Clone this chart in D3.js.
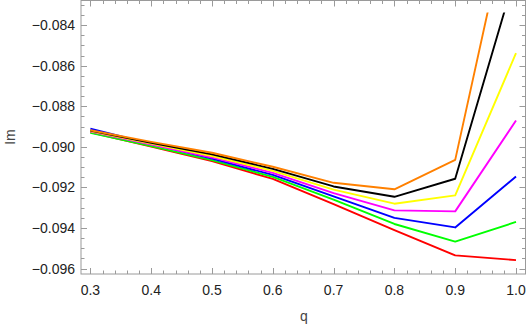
<!DOCTYPE html>
<html>
<head>
<meta charset="utf-8">
<script src="https://cdn.jsdelivr.net/npm/d3@7"></script>
<style>
  body { margin: 0; background: #fff; }
  text { font-family: "Liberation Sans", Arial, sans-serif; }
</style>
</head>
<body>
<svg id="chart" width="528" height="327"></svg>
<script>
// q values on the x axis
const qValues = [0.3, 0.4, 0.5, 0.6, 0.7, 0.8, 0.9, 1.0];

// Im values per curve
const redIm     = [-0.08928, -0.08998, -0.09070, -0.09158, -0.09282, -0.09410, -0.09535, -0.09558];
const greenIm   = [-0.08930, -0.08996, -0.09065, -0.09148, -0.09260, -0.09380, -0.09467, -0.09370];
const blueIm    = [-0.08910, -0.08985, -0.09058, -0.09138, -0.09244, -0.09350, -0.09397, -0.09146];
const magentaIm = [-0.08924, -0.08988, -0.09052, -0.09128, -0.09228, -0.09313, -0.09318, -0.08870];
const yellowIm  = [-0.08922, -0.08984, -0.09045, -0.09118, -0.09211, -0.09280, -0.09239, -0.08538];
const blackIm   = [-0.08920, -0.08980, -0.09037, -0.09108, -0.09195, -0.09246, -0.09157, -0.08139];
const orangeIm  = [-0.08918, -0.08975, -0.09029, -0.09098, -0.09177, -0.09209, -0.09064, -0.07700];

const xTicks = [0.3, 0.4, 0.5, 0.6, 0.7, 0.8, 0.9, 1.0];
const yTicks = [-0.096, -0.094, -0.092, -0.090, -0.088, -0.086, -0.084];

const series = [
  { values: redIm, color: "#ff0000" },
  { values: greenIm, color: "#00ff00" },
  { values: blueIm, color: "#0000ff" },
  { values: magentaIm, color: "#ff00ff" },
  { values: yellowIm, color: "#ffff00" },
  { values: blackIm, color: "#000000" },
  { values: orangeIm, color: "#ff8000" },
];

const svg = d3.select("#chart");

// frame edges (plot padding as in the picture)
const fLeft = 81, fRight = 525.5, fTop = 0.5, fBottom = 274;

const x = d3.scaleLinear().domain([0.3, 1.0]).range([90.4, 516]);
const y = d3.scaleLinear().domain([-0.096, -0.084]).range([268.6, 25.2]);

// lines are cut at the plot range top
const clipTop = y(-0.08338);
svg.append("clipPath").attr("id", "clip")
  .append("rect")
  .attr("x", fLeft).attr("y", clipTop)
  .attr("width", fRight - fLeft).attr("height", fBottom - clipTop);

const line = d3.line()
  .x((d, i) => x(qValues[i]))
  .y((d) => y(d));

svg.append("g")
  .attr("clip-path", "url(#clip)")
  .selectAll("path")
  .data(series)
  .join("path")
  .attr("fill", "none")
  .attr("stroke", (d) => d.color)
  .attr("stroke-width", 1.9)
  .attr("stroke-linejoin", "round")
  .attr("d", (d) => line(d.values));

// frame
svg.append("rect")
  .attr("x", fLeft).attr("y", fTop)
  .attr("width", fRight - fLeft).attr("height", fBottom - fTop)
  .attr("fill", "none").attr("stroke", "#9a9a9a").attr("stroke-width", 1);

const tickColor = "#9a9a9a";

// x ticks, major and minor, bottom and top, pointing inward
const xMinor = d3.range(30, 101, 2).map((v) => v / 100);
const xt = svg.append("g").attr("stroke", tickColor).attr("stroke-width", 1);
xMinor.forEach((v) => {
  const major = Math.abs(v * 10 - Math.round(v * 10)) < 1e-6;
  const len = major ? 6 : 3.5;
  const px = Math.round(x(v)) + 0.5;
  xt.append("line").attr("x1", px).attr("x2", px).attr("y1", fBottom).attr("y2", fBottom - len);
  xt.append("line").attr("x1", px).attr("x2", px).attr("y1", fTop).attr("y2", fTop + len);
});

// y ticks
const yMinor = d3.range(-0.0960, -0.08299, 0.0005);
const yt = svg.append("g").attr("stroke", tickColor).attr("stroke-width", 1);
yMinor.forEach((v) => {
  const major = yTicks.some((t) => Math.abs(t - v) < 1e-7);
  const len = major ? 6 : 3.5;
  const py = y(v);
  if (py < fTop || py > fBottom) return;
  const p = Math.round(py) + 0.5;
  yt.append("line").attr("x1", fLeft).attr("x2", fLeft + len).attr("y1", p).attr("y2", p);
  yt.append("line").attr("x1", fRight).attr("x2", fRight - len).attr("y1", p).attr("y2", p);
});

// tick labels
svg.append("g")
  .selectAll("text")
  .data(xTicks)
  .join("text")
  .attr("x", (d) => x(d))
  .attr("y", 295)
  .attr("text-anchor", "middle")
  .attr("font-size", 14)
  .attr("fill", "#222")
  .text((d) => d.toFixed(1));

svg.append("g")
  .selectAll("text")
  .data(yTicks)
  .join("text")
  .attr("x", 75)
  .attr("y", (d) => y(d) + 5)
  .attr("text-anchor", "end")
  .attr("font-size", 14)
  .attr("fill", "#222")
  .text((d) => "\u2212" + Math.abs(d).toFixed(3));

// axis titles
svg.append("text")
  .attr("x", 304).attr("y", 321)
  .attr("text-anchor", "middle")
  .attr("font-size", 14)
  .attr("fill", "#444")
  .text("q");

svg.append("text")
  .attr("transform", "translate(15,137) rotate(-90)")
  .attr("text-anchor", "middle")
  .attr("font-size", 14)
  .attr("fill", "#444")
  .text("Im");
</script>
</body>
</html>
